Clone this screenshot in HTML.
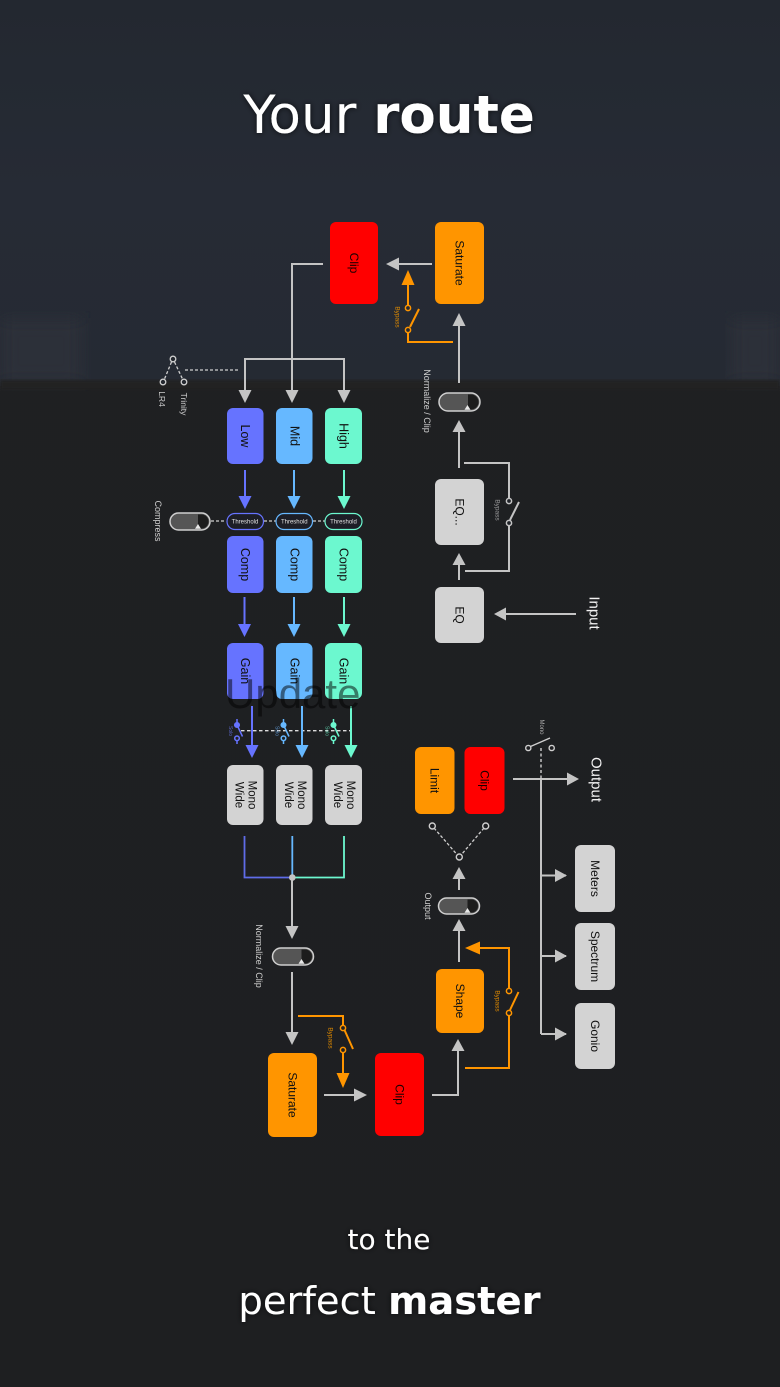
<!DOCTYPE html>
<html>
<head>
<meta charset="utf-8">
<style>
  html,body{margin:0;padding:0;}
  body{width:780px;height:1387px;overflow:hidden;background:#1f2022;position:relative;}
  svg{position:absolute;left:0;top:0;}
</style>
</head>
<body>
<svg width="780" height="1387" viewBox="0 0 780 1387" xmlns="http://www.w3.org/2000/svg">
  <defs>
    <linearGradient id="topbg" x1="0" y1="0" x2="0" y2="1">
      <stop offset="0" stop-color="#232830"/>
      <stop offset="0.5" stop-color="#262b35"/>
      <stop offset="1" stop-color="#252a33"/>
    </linearGradient>
    <linearGradient id="botbg" x1="0" y1="0" x2="0" y2="1">
      <stop offset="0" stop-color="#1f2023"/>
      <stop offset="1" stop-color="#1e1f21"/>
    </linearGradient>
    <filter id="blur8"><feGaussianBlur stdDeviation="8"/></filter>
    <filter id="blur2"><feGaussianBlur stdDeviation="1.5"/></filter>
    <filter id="tshadow"><feDropShadow dx="0" dy="0" stdDeviation="3" flood-color="#000" flood-opacity="0.7"/></filter>
  </defs>

  <!-- background -->
  <rect x="0" y="0" width="780" height="1387" fill="url(#botbg)"/>
  <rect x="0" y="0" width="780" height="386" fill="url(#topbg)"/>
  <rect x="0" y="318" width="82" height="66" fill="#2d333b" filter="url(#blur8)" opacity="0.8"/>
  <rect x="730" y="318" width="50" height="66" fill="#2d333b" filter="url(#blur8)" opacity="0.8"/>
  <rect x="0" y="380" width="780" height="10" fill="#202124" filter="url(#blur2)"/>

  <!-- headline -->
  <text x="389" y="133" text-anchor="middle" font-family="DejaVu Sans, Liberation Sans, sans-serif" font-size="53" fill="#ffffff" filter="url(#tshadow)"><tspan font-weight="400">Your </tspan><tspan font-weight="700">route</tspan></text>

  <!-- ============ TOP SECTION ============ -->
  <g font-family="Liberation Sans, sans-serif">
    <!-- Clip top -->
    <rect x="330" y="222" width="48" height="82" rx="6" fill="#ff0000"/>
    <text transform="translate(354,263) rotate(90)" text-anchor="middle" dominant-baseline="central" font-size="12" fill="#1a0000">Clip</text>
    <!-- Saturate top -->
    <rect x="435" y="222" width="49" height="82" rx="6" fill="#ff9500"/>
    <text transform="translate(459.5,263) rotate(90)" text-anchor="middle" dominant-baseline="central" font-size="12" fill="#111">Saturate</text>

    <g stroke="#c4c4c4" stroke-width="2" fill="none">
      <line x1="432" y1="264" x2="398" y2="264"/>
      <polyline points="323,264 292,264 292,392"/>
      <polyline points="245,392 245,359 344,359 344,392"/>
      <line x1="459" y1="383" x2="459" y2="325"/>
      <line x1="459" y1="468" x2="459" y2="431"/>
      <line x1="459" y1="580" x2="459" y2="563"/>
      <line x1="576" y1="614" x2="505" y2="614"/>
      <!-- EQ bypass -->
      <polyline points="464,463 509,463 509,498"/>
      <polyline points="509,526 509,571 465,571"/>
      <line x1="510" y1="520" x2="519" y2="502"/>
    </g>
    <g fill="#c4c4c4">
      <polygon points="386,264 399,257.5 399,270.5"/>
      <polygon points="292,403 285.5,390 298.5,390"/>
      <polygon points="245,403 238.5,390 251.5,390"/>
      <polygon points="344,403 337.5,390 350.5,390"/>
      <polygon points="459,313 452.5,326 465.5,326"/>
      <polygon points="459,420 452.5,432 465.5,432"/>
      <polygon points="459,553 452.5,565 465.5,565"/>
      <polygon points="494,614 506,607.5 506,620.5"/>
    </g>
    <g fill="#1f2228" stroke="#c4c4c4" stroke-width="1.5">
      <circle cx="509" cy="501" r="2.6"/>
      <circle cx="509" cy="523" r="2.6"/>
    </g>
    <text transform="translate(497,510) rotate(90)" text-anchor="middle" dominant-baseline="central" font-size="6.5" fill="#9a9a9a">Bypass</text>

    <!-- orange bypass top -->
    <g stroke="#ff9500" stroke-width="2" fill="none">
      <polyline points="453,342 408,342 408,333"/>
      <line x1="410" y1="327" x2="419" y2="309"/>
      <line x1="408" y1="305" x2="408" y2="284"/>
    </g>
    <polygon points="408,270 401.5,285 414.5,285" fill="#ff9500"/>
    <g fill="#252a33" stroke="#ff9500" stroke-width="1.5">
      <circle cx="408" cy="330" r="2.6"/>
      <circle cx="408" cy="308" r="2.6"/>
    </g>
    <text transform="translate(397,317) rotate(90)" text-anchor="middle" dominant-baseline="central" font-size="6.5" fill="#e08a00">Bypass</text>

    <!-- normalize toggle top -->
    <rect x="439" y="393" width="41" height="18" rx="9" fill="#555" stroke="#cfcfcf" stroke-width="1.5"/>
    <path d="M468 394.5 H471 A7.5 7.5 0 0 1 471 409.5 H468 Z" fill="#1c1c1c"/>
    <polygon points="464.5,409.8 470.5,409.8 467.5,405" fill="#e8e8e8"/>
    <text transform="translate(427,401) rotate(90)" text-anchor="middle" dominant-baseline="central" font-size="9" fill="#cfcfcf">Normalize / Clip</text>

    <!-- EQ boxes -->
    <rect x="435" y="479" width="49" height="66" rx="6" fill="#d3d3d3"/>
    <text transform="translate(459.5,512) rotate(90)" text-anchor="middle" dominant-baseline="central" font-size="12" fill="#111">EQ...</text>
    <rect x="435" y="587" width="49" height="56" rx="6" fill="#d3d3d3"/>
    <text transform="translate(459.5,615) rotate(90)" text-anchor="middle" dominant-baseline="central" font-size="12" fill="#111">EQ</text>
    <text transform="translate(594,613) rotate(90)" text-anchor="middle" dominant-baseline="central" font-size="15" fill="#f2f2f2">Input</text>

    <!-- LR4 / Trinity switch -->
    <g stroke="#cfcfcf" stroke-width="1.3" fill="none" stroke-dasharray="3,2">
      <line x1="171.5" y1="362" x2="164.5" y2="379"/>
      <line x1="174.5" y1="362" x2="182.5" y2="379"/>
      <line x1="185" y1="370" x2="240" y2="370"/>
    </g>
    <g fill="#24282f" stroke="#cfcfcf" stroke-width="1.3">
      <circle cx="173" cy="359" r="2.8"/>
      <circle cx="163" cy="382" r="2.8"/>
      <circle cx="184" cy="382" r="2.8"/>
    </g>
    <text transform="translate(162,399) rotate(90)" text-anchor="middle" dominant-baseline="central" font-size="8.5" fill="#cfcfcf">LR4</text>
    <text transform="translate(184,404) rotate(90)" text-anchor="middle" dominant-baseline="central" font-size="8.5" fill="#cfcfcf">Trinity</text>
  </g>

  <!-- ============ BANDS ============ -->
  <g font-family="Liberation Sans, sans-serif">
    <!-- band boxes -->
    <rect x="227" y="408" width="36.5" height="56" rx="6" fill="#6673ff"/>
    <rect x="276" y="408" width="36.5" height="56" rx="6" fill="#66b8ff"/>
    <rect x="325" y="408" width="37" height="56" rx="6" fill="#6cf8cf"/>
    <text transform="translate(245,436) rotate(90)" text-anchor="middle" dominant-baseline="central" font-size="12.5" fill="#111">Low</text>
    <text transform="translate(294.3,436) rotate(90)" text-anchor="middle" dominant-baseline="central" font-size="12.5" fill="#111">Mid</text>
    <text transform="translate(343.5,436) rotate(90)" text-anchor="middle" dominant-baseline="central" font-size="12.5" fill="#111">High</text>

    <!-- arrows band -> threshold -->
    <line x1="245" y1="470" x2="245" y2="498" stroke="#6673ff" stroke-width="2"/>
    <polygon points="245,509 238.5,496 251.5,496" fill="#6673ff"/>
    <line x1="294" y1="470" x2="294" y2="498" stroke="#66b8ff" stroke-width="2"/>
    <polygon points="294,509 287.5,496 300.5,496" fill="#66b8ff"/>
    <line x1="344" y1="470" x2="344" y2="498" stroke="#6cf8cf" stroke-width="2"/>
    <polygon points="344,509 337.5,496 350.5,496" fill="#6cf8cf"/>

    <!-- compress toggle & threshold -->
    <g stroke="#cfcfcf" stroke-width="1.3" stroke-dasharray="3,2">
      <line x1="211" y1="521" x2="226" y2="521"/>
      <line x1="264" y1="521" x2="276" y2="521"/>
      <line x1="313" y1="521" x2="325" y2="521"/>
    </g>
    <rect x="170" y="513" width="40" height="17" rx="8.5" fill="#555" stroke="#cfcfcf" stroke-width="1.5"/>
    <path d="M198 514.5 H201.5 A7 7 0 0 1 201.5 528.5 H198 Z" fill="#1c1c1c"/>
    <polygon points="195,528.8 201,528.8 198,524" fill="#e8e8e8"/>
    <text transform="translate(158,521) rotate(90)" text-anchor="middle" dominant-baseline="central" font-size="9" fill="#cfcfcf">Compress</text>

    <rect x="227" y="513.5" width="36.5" height="16" rx="8" fill="#1d1e26" stroke="#6673ff" stroke-width="1.2"/>
    <rect x="276" y="513.5" width="36.5" height="16" rx="8" fill="#1d1e26" stroke="#66b8ff" stroke-width="1.2"/>
    <rect x="325" y="513.5" width="37" height="16" rx="8" fill="#1d1e26" stroke="#6cf8cf" stroke-width="1.2"/>
    <g font-size="6" fill="#e0e0e0" text-anchor="middle">
      <text x="245" y="523.5">Threshold</text>
      <text x="294.3" y="523.5">Threshold</text>
      <text x="343.5" y="523.5">Threshold</text>
    </g>

    <!-- comp boxes -->
    <rect x="227" y="536" width="36.5" height="57" rx="6" fill="#6673ff"/>
    <rect x="276" y="536" width="36.5" height="57" rx="6" fill="#66b8ff"/>
    <rect x="325" y="536" width="37" height="57" rx="6" fill="#6cf8cf"/>
    <text transform="translate(245,564.5) rotate(90)" text-anchor="middle" dominant-baseline="central" font-size="12.5" fill="#111">Comp</text>
    <text transform="translate(294.3,564.5) rotate(90)" text-anchor="middle" dominant-baseline="central" font-size="12.5" fill="#111">Comp</text>
    <text transform="translate(343.5,564.5) rotate(90)" text-anchor="middle" dominant-baseline="central" font-size="12.5" fill="#111">Comp</text>

    <!-- arrows comp -> gain -->
    <line x1="244.5" y1="597" x2="244.5" y2="625" stroke="#6673ff" stroke-width="2"/>
    <polygon points="244.5,637 238,624 251,624" fill="#6673ff"/>
    <line x1="294" y1="597" x2="294" y2="625" stroke="#66b8ff" stroke-width="2"/>
    <polygon points="294,637 287.5,624 300.5,624" fill="#66b8ff"/>
    <line x1="344" y1="597" x2="344" y2="625" stroke="#6cf8cf" stroke-width="2"/>
    <polygon points="344,637 337.5,624 350.5,624" fill="#6cf8cf"/>

    <!-- gain boxes -->
    <rect x="227" y="643" width="36.5" height="56" rx="6" fill="#6673ff"/>
    <rect x="276" y="643" width="36.5" height="56" rx="6" fill="#66b8ff"/>
    <rect x="325" y="643" width="37" height="56" rx="6" fill="#6cf8cf"/>
    <text transform="translate(245,671) rotate(90)" text-anchor="middle" dominant-baseline="central" font-size="12.5" fill="#111">Gain</text>
    <text transform="translate(294.3,671) rotate(90)" text-anchor="middle" dominant-baseline="central" font-size="12.5" fill="#111">Gain</text>
    <text transform="translate(343.5,671) rotate(90)" text-anchor="middle" dominant-baseline="central" font-size="12.5" fill="#111">Gain</text>

    <!-- solo dashed line -->
    <line x1="241" y1="730.7" x2="352" y2="730.7" stroke="#dcdcdc" stroke-width="1.3" stroke-dasharray="3.5,2.5"/>

    <!-- arrows gain -> mono wide -->
    <line x1="252" y1="706" x2="252" y2="747" stroke="#6673ff" stroke-width="2"/>
    <polygon points="252,758 245.5,745 258.5,745" fill="#6673ff"/>
    <line x1="302" y1="706" x2="302" y2="747" stroke="#66b8ff" stroke-width="2"/>
    <polygon points="302,758 295.5,745 308.5,745" fill="#66b8ff"/>
    <line x1="351" y1="706" x2="351" y2="747" stroke="#6cf8cf" stroke-width="2"/>
    <polygon points="351,758 344.5,745 357.5,745" fill="#6cf8cf"/>

    <!-- solo switches -->
    <g stroke-width="1.5" fill="#1f2023">
      <g stroke="#6673ff">
        <line x1="237" y1="719" x2="237" y2="722.5"/>
        <line x1="237" y1="740.5" x2="237" y2="744"/>
        <line x1="238" y1="727" x2="242.5" y2="736.5"/>
        <circle cx="237" cy="725" r="2.3" fill="#6673ff"/>
        <circle cx="237" cy="738.3" r="2.3"/>
      </g>
      <g stroke="#66b8ff">
        <line x1="283.5" y1="719" x2="283.5" y2="722.5"/>
        <line x1="283.5" y1="740.5" x2="283.5" y2="744"/>
        <line x1="284.5" y1="727" x2="289" y2="736.5"/>
        <circle cx="283.5" cy="725" r="2.3" fill="#66b8ff"/>
        <circle cx="283.5" cy="738.3" r="2.3"/>
      </g>
      <g stroke="#6cf8cf">
        <line x1="333.5" y1="719" x2="333.5" y2="722.5"/>
        <line x1="333.5" y1="740.5" x2="333.5" y2="744"/>
        <line x1="334.5" y1="727" x2="339" y2="736.5"/>
        <circle cx="333.5" cy="725" r="2.3" fill="#6cf8cf"/>
        <circle cx="333.5" cy="738.3" r="2.3"/>
      </g>
    </g>
    <text transform="translate(230,731) rotate(90)" text-anchor="middle" dominant-baseline="central" font-size="5" fill="#5a66c8">Solo</text>
    <text transform="translate(276.5,731) rotate(90)" text-anchor="middle" dominant-baseline="central" font-size="5" fill="#5a92c8">Solo</text>
    <text transform="translate(326.5,731) rotate(90)" text-anchor="middle" dominant-baseline="central" font-size="5" fill="#58c0a0">Solo</text>

    <!-- ghost "Update" text -->
    <text x="225" y="708" font-family="Liberation Sans, sans-serif" font-size="42" fill="#000" fill-opacity="0.5">Update</text>

    <!-- mono wide -->
    <rect x="227" y="765" width="36.5" height="60" rx="6" fill="#d3d3d3"/>
    <rect x="276" y="765" width="36.5" height="60" rx="6" fill="#d3d3d3"/>
    <rect x="325" y="765" width="37" height="60" rx="6" fill="#d3d3d3"/>
    <g font-size="11.5" fill="#111" text-anchor="middle" dominant-baseline="central">
      <text transform="translate(245,795) rotate(90)"><tspan x="0" y="-6.5">Mono</tspan><tspan x="0" y="6.5">Wide</tspan></text>
      <text transform="translate(294.3,795) rotate(90)"><tspan x="0" y="-6.5">Mono</tspan><tspan x="0" y="6.5">Wide</tspan></text>
      <text transform="translate(343.5,795) rotate(90)"><tspan x="0" y="-6.5">Mono</tspan><tspan x="0" y="6.5">Wide</tspan></text>
    </g>

    <!-- merge lines -->
    <polyline points="244.5,836 244.5,877.5 292,877.5" fill="none" stroke="#5f6ce8" stroke-width="1.8"/>
    <line x1="292.3" y1="836" x2="292.3" y2="877" stroke="#66b8ff" stroke-width="1.8"/>
    <polyline points="344,836 344,877.5 292,877.5" fill="none" stroke="#6cf8cf" stroke-width="1.8"/>
    <line x1="292" y1="878" x2="292" y2="928" stroke="#c4c4c4" stroke-width="2"/>
    <polygon points="292,939 285.5,926 298.5,926" fill="#c4c4c4"/>
    <circle cx="292.3" cy="877.5" r="3.3" fill="#c4c4c4"/>
  </g>

  <!-- ============ BOTTOM SECTION ============ -->
  <g font-family="Liberation Sans, sans-serif">
    <!-- normalize toggle bottom -->
    <rect x="272.5" y="948" width="41" height="17" rx="8.5" fill="#555" stroke="#cfcfcf" stroke-width="1.5"/>
    <path d="M301.5 949.5 H305 A7 7 0 0 1 305 963.5 H301.5 Z" fill="#1c1c1c"/>
    <polygon points="298.5,963.8 304.5,963.8 301.5,959" fill="#e8e8e8"/>
    <text transform="translate(259,956) rotate(90)" text-anchor="middle" dominant-baseline="central" font-size="9" fill="#cfcfcf">Normalize / Clip</text>

    <g stroke="#c4c4c4" stroke-width="2" fill="none">
      <line x1="292" y1="972" x2="292" y2="1033"/>
      <line x1="324" y1="1095" x2="355" y2="1095"/>
      <polyline points="432,1095 458,1095 458,1050"/>
      <line x1="459" y1="962" x2="459" y2="930"/>
      <line x1="459" y1="890" x2="459" y2="878"/>
      <line x1="513" y1="779" x2="568" y2="779"/>
      <line x1="541" y1="779" x2="541" y2="1034"/>
      <line x1="541" y1="875.5" x2="566" y2="875.5"/>
      <line x1="541" y1="956" x2="566" y2="956"/>
      <line x1="541" y1="1034" x2="566" y2="1034"/>
    </g>
    <g fill="#c4c4c4">
      <polygon points="292,1045 285.5,1032 298.5,1032"/>
      <polygon points="367,1095 354,1088.5 354,1101.5"/>
      <polygon points="458,1039 451.5,1051 464.5,1051"/>
      <polygon points="459,919 452.5,931 465.5,931"/>
      <polygon points="459,867 452.5,879 465.5,879"/>
      <polygon points="579,779 567,772.5 567,785.5"/>
      <polygon points="567,875.5 555,869 555,882"/>
      <polygon points="567,956 555,949.5 555,962.5"/>
      <polygon points="567,1034 555,1027.5 555,1040.5"/>
    </g>

    <!-- saturate bottom -->
    <rect x="268" y="1053" width="49" height="84" rx="6" fill="#ff9500"/>
    <text transform="translate(292.5,1095) rotate(90)" text-anchor="middle" dominant-baseline="central" font-size="12" fill="#111">Saturate</text>
    <!-- clip bottom -->
    <rect x="375" y="1053" width="49" height="83" rx="6" fill="#ff0000"/>
    <text transform="translate(399.5,1094.5) rotate(90)" text-anchor="middle" dominant-baseline="central" font-size="12" fill="#1a0000">Clip</text>

    <!-- orange bypass saturate -->
    <g stroke="#ff9500" stroke-width="2" fill="none">
      <polyline points="298,1016 343,1016 343,1025"/>
      <line x1="344.5" y1="1030" x2="353" y2="1049"/>
      <line x1="343" y1="1053" x2="343" y2="1074"/>
    </g>
    <polygon points="343,1088 336.5,1073 349.5,1073" fill="#ff9500"/>
    <g fill="#1f2023" stroke="#ff9500" stroke-width="1.5">
      <circle cx="343" cy="1028" r="2.6"/>
      <circle cx="343" cy="1050" r="2.6"/>
    </g>
    <text transform="translate(330,1038) rotate(90)" text-anchor="middle" dominant-baseline="central" font-size="6.5" fill="#e08a00">Bypass</text>

    <!-- shape -->
    <rect x="436" y="969" width="48" height="64" rx="6" fill="#ff9500"/>
    <text transform="translate(460,1001) rotate(90)" text-anchor="middle" dominant-baseline="central" font-size="12" fill="#111">Shape</text>
    <g stroke="#ff9500" stroke-width="2" fill="none">
      <polyline points="465,1068 509,1068 509,1016"/>
      <line x1="510" y1="1010" x2="518.5" y2="992"/>
      <polyline points="509,988 509,948 478,948"/>
    </g>
    <polygon points="465,948 480,941.5 480,954.5" fill="#ff9500"/>
    <g fill="#1f2023" stroke="#ff9500" stroke-width="1.5">
      <circle cx="509" cy="1013" r="2.6"/>
      <circle cx="509" cy="991" r="2.6"/>
    </g>
    <text transform="translate(497,1001) rotate(90)" text-anchor="middle" dominant-baseline="central" font-size="6.5" fill="#e08a00">Bypass</text>

    <!-- output toggle -->
    <rect x="438.5" y="898" width="41" height="16" rx="8" fill="#555" stroke="#cfcfcf" stroke-width="1.5"/>
    <path d="M467.5 899.5 H471.5 A6.5 6.5 0 0 1 471.5 912.5 H467.5 Z" fill="#1c1c1c"/>
    <polygon points="464.5,912.8 470.5,912.8 467.5,908" fill="#e8e8e8"/>
    <text transform="translate(428,906) rotate(90)" text-anchor="middle" dominant-baseline="central" font-size="9" fill="#cfcfcf">Output</text>

    <!-- limit/clip selector -->
    <g stroke="#cfcfcf" stroke-width="1.3" stroke-dasharray="3,2" fill="none">
      <line x1="434" y1="828" x2="457" y2="854.5"/>
      <line x1="484" y1="828" x2="461.5" y2="854.5"/>
    </g>
    <g fill="#1f2023" stroke="#cfcfcf" stroke-width="1.4">
      <circle cx="459.3" cy="857" r="3"/>
      <circle cx="432.3" cy="826" r="3"/>
      <circle cx="485.7" cy="826" r="3"/>
    </g>

    <rect x="415" y="747" width="39.5" height="67" rx="6" fill="#ff9500"/>
    <text transform="translate(434.7,780.5) rotate(90)" text-anchor="middle" dominant-baseline="central" font-size="12" fill="#111">Limit</text>
    <rect x="464.5" y="747" width="40" height="67" rx="6" fill="#ff0000"/>
    <text transform="translate(484.5,780.5) rotate(90)" text-anchor="middle" dominant-baseline="central" font-size="12" fill="#1a0000">Clip</text>

    <text transform="translate(596,779.5) rotate(90)" text-anchor="middle" dominant-baseline="central" font-size="15" fill="#f2f2f2">Output</text>

    <!-- mono switch -->
    <line x1="541" y1="748" x2="541" y2="779" stroke="#cfcfcf" stroke-width="1.4" stroke-dasharray="3,2.5"/>
    <line x1="530.5" y1="746.5" x2="550" y2="738" stroke="#cfcfcf" stroke-width="1.4"/>
    <g fill="#1f2023" stroke="#cfcfcf" stroke-width="1.4">
      <circle cx="528.3" cy="748" r="2.6"/>
      <circle cx="551.7" cy="748" r="2.6"/>
    </g>
    <text transform="translate(541,727) rotate(90)" text-anchor="middle" dominant-baseline="central" font-size="6" fill="#aaaaaa">Mono</text>

    <!-- meters etc -->
    <rect x="575" y="845" width="40" height="67" rx="6" fill="#d3d3d3"/>
    <text transform="translate(595,878.5) rotate(90)" text-anchor="middle" dominant-baseline="central" font-size="12" fill="#111">Meters</text>
    <rect x="575" y="923" width="40" height="67" rx="6" fill="#d3d3d3"/>
    <text transform="translate(595,956.5) rotate(90)" text-anchor="middle" dominant-baseline="central" font-size="12" fill="#111">Spectrum</text>
    <rect x="575" y="1003" width="40" height="66" rx="6" fill="#d3d3d3"/>
    <text transform="translate(595,1036) rotate(90)" text-anchor="middle" dominant-baseline="central" font-size="12" fill="#111">Gonio</text>
  </g>

  <!-- bottom headline -->
  <text x="389" y="1249" text-anchor="middle" font-family="DejaVu Sans, Liberation Sans, sans-serif" font-size="28" fill="#ffffff" filter="url(#tshadow)">to the</text>
  <text x="389.5" y="1314" text-anchor="middle" font-family="DejaVu Sans, Liberation Sans, sans-serif" font-size="38.5" fill="#ffffff" filter="url(#tshadow)"><tspan>perfect </tspan><tspan font-weight="700">master</tspan></text>
</svg>
</body>
</html>
